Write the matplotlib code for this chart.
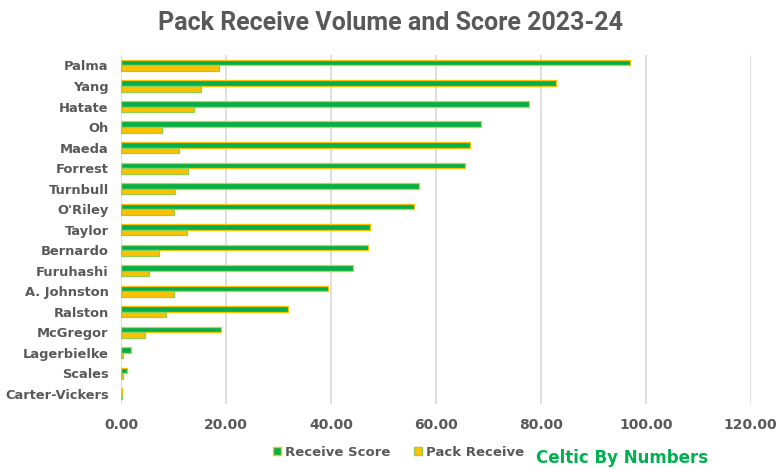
import matplotlib
matplotlib.use("Agg")
import matplotlib.pyplot as plt
from matplotlib.patches import Patch
import numpy as np

players = ["Palma", "Yang", "Hatate", "Oh", "Maeda", "Forrest", "Turnbull", "O'Riley",
           "Taylor", "Bernardo", "Furuhashi", "A. Johnston", "Ralston", "McGregor",
           "Lagerbielke", "Scales", "Carter-Vickers"]
receive_score = [97.0, 82.9, 77.7, 68.6, 66.5, 65.6, 56.8, 55.9,
                 47.4, 47.1, 44.1, 39.4, 31.7, 19.0, 1.9, 1.1, 0.2]
pack_receive = [18.6, 15.2, 13.9, 7.8, 11.0, 12.7, 10.2, 10.1,
                12.5, 7.2, 5.3, 10.1, 8.5, 4.5, 0.3, 0.3, 0.2]
xticks = [0, 20, 40, 60, 80, 100, 120]

GREEN = "#00B050"
GOLD = "#FFC000"
GREY = "#595959"

fig = plt.figure(figsize=(7.82, 4.72), dpi=100)
ax = fig.add_axes([0.155, 0.144, 0.805, 0.739])

y = np.arange(len(players))
h = 0.27
ax.barh(y - h/2, receive_score, height=h, color=GREEN, edgecolor=GOLD, linewidth=0.9, zorder=3)
ax.barh(y + h/2, pack_receive, height=h, color=GOLD, edgecolor="#92D050", linewidth=0.9, zorder=3)

ax.set_ylim(len(players) - 0.5, -0.5)
ax.set_xlim(0, 120)
ax.set_xticks(xticks)
ax.set_xticklabels([f"{v:.2f}" for v in xticks])
ax.set_yticks(y)
ax.set_yticklabels(players)
ax.tick_params(length=0, labelcolor=GREY)
ax.tick_params(axis="y", pad=9, labelsize=9.4)
ax.tick_params(axis="x", pad=10, labelsize=10)
for lab in ax.get_xticklabels() + ax.get_yticklabels():
    lab.set_fontweight("bold")

ax.grid(axis="x", color="#D9D9D9", linewidth=1.2, zorder=0)
for s in ax.spines.values():
    s.set_visible(False)

fig.text(0.5, 0.951, "Pack Receive Volume and Score 2023-24", ha="center", va="center",
         fontsize=18, fontweight="bold", color=GREY, family=["Roboto", "DejaVu Sans"])

handles = [Patch(facecolor=GREEN, edgecolor=GOLD, label="Receive Score"),
           Patch(facecolor=GOLD, edgecolor="#92D050", label="Pack Receive")]
leg = fig.legend(handles=handles, loc="center", bbox_to_anchor=(0.51, 0.042), ncol=2,
                 frameon=False, handlelength=0.6, handleheight=0.6, handletextpad=0.3,
                 columnspacing=1.8, prop={"weight": "bold", "size": 9.5})
for t in leg.get_texts():
    t.set_color(GREY)

fig.text(0.795, 0.03, "Celtic By Numbers", ha="center", va="center",
         fontsize=12, fontweight="bold", color=GREEN)

fig.savefig("out.png", dpi=100)
